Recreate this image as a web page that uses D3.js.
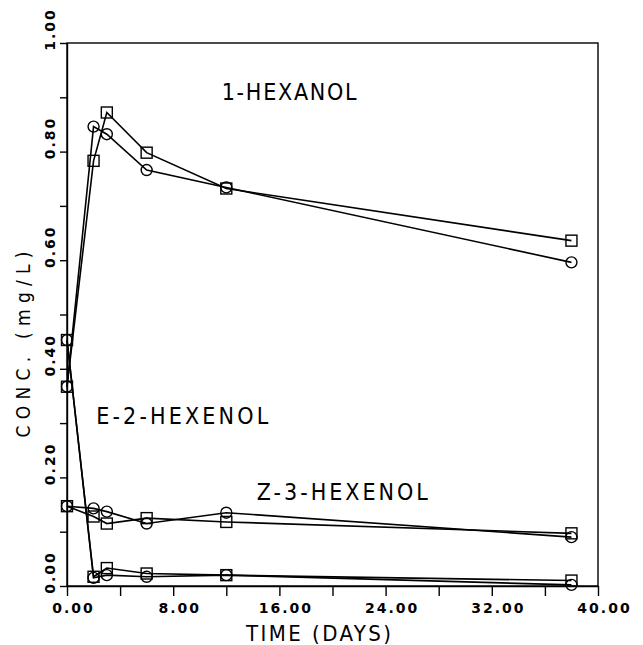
<!DOCTYPE html>
<html>
<head>
<meta charset="utf-8">
<script src="https://d3js.org/d3.v7.min.js"></script>
<style>
	body { margin: 0; background: #fff; }
	svg { display: block; }
	text { font-family: "DejaVu Sans Condensed", "DejaVu Sans", sans-serif; fill: #000; }
</style>
</head>
<body>
<div id="chart"></div>
<script>

// sampling days
const days = [0, 2, 3, 6, 12, 38];

// 1-hexanol
const hexanolCircle = [0.367, 0.846, 0.832, 0.766, 0.734, 0.596];
const hexanolSquare = [0.367, 0.783, 0.872, 0.798, 0.732, 0.636];

// E-2-hexenol
const e2Circle = [0.453, 0.015, 0.020, 0.017, 0.020, 0.002];
const e2Square = [0.453, 0.017, 0.033, 0.023, 0.020, 0.010];

// Z-3-hexenol
const z3Circle = [0.147, 0.143, 0.137, 0.115, 0.135, 0.090];
const z3Square = [0.147, 0.128, 0.115, 0.125, 0.118, 0.097];

const xTicks = [0, 4, 8, 12, 16, 20, 24, 28, 32, 36, 40];
const yTicks = [0, 0.1, 0.2, 0.3, 0.4, 0.5, 0.6, 0.7, 0.8, 0.9, 1.0];

const labels = [
	{text: "1-HEXANOL", x: 11.65, y: 0.895, len: 135},
	{text: "E-2-HEXENOL", x: 2.2, y: 0.299, len: 172},
	{text: "Z-3-HEXENOL", x: 14.3, y: 0.158, len: 171}
];

let series = [
	{values: hexanolCircle, mark: "circle"},
	{values: hexanolSquare, mark: "square"},
	{values: e2Circle, mark: "circle"},
	{values: e2Square, mark: "square"},
	{values: z3Circle, mark: "circle"},
	{values: z3Square, mark: "square"}
];

let margin = {top: 43, right: 45, bottom: 59, left: 67};
let width = 643 - margin.left - margin.right;
let height = 645 - margin.top - margin.bottom;

let svg = d3.select("#chart").append("svg")
	.attr("width", 643)
	.attr("height", 645)
	.append("g")
	.attr("transform", "translate(" + margin.left + "," + margin.top + ")");

let x = d3.scaleLinear().domain([0, 40]).range([0, width]);
let y = d3.scaleLinear().domain([0, 1]).range([height, 0]);

let fmt = d3.format(".2f");

// frame
svg.append("rect")
	.attr("x", 0).attr("y", 0)
	.attr("width", width).attr("height", height)
	.attr("fill", "none")
	.attr("stroke", "#000")
	.attr("stroke-width", 1.4);

// x axis
let xAxis = d3.axisBottom(x)
	.tickValues(xTicks)
	.tickSize(10)
	.tickSizeOuter(0)
	.tickFormat(d => d % 8 === 0 ? fmt(d) : "");

let gx = svg.append("g")
	.attr("transform", "translate(0," + height + ")")
	.call(xAxis);
gx.selectAll("path, line").attr("stroke", "#000").attr("stroke-width", 1.4);
gx.selectAll("text")
	.attr("y", 27)
	.attr("dy", 0)
	.attr("dx", 6)
	.style("font-family", "'DejaVu Sans', sans-serif")
	.style("font-weight", "bold")
	.style("font-size", "14px")
	.style("letter-spacing", "2px");

// y axis
let yAxis = d3.axisLeft(y)
	.tickValues(yTicks)
	.tickSize(7)
	.tickSizeOuter(0)
	.tickFormat(d => Math.round(d * 10) % 2 === 0 ? fmt(d) : "");

let gy = svg.append("g").call(yAxis);
gy.selectAll("path, line").attr("stroke", "#000").attr("stroke-width", 1.4);
gy.selectAll("text")
	.attr("x", 0)
	.attr("dy", 0)
	.attr("text-anchor", "middle")
	.attr("transform", "translate(-12,-14) rotate(-90)")
	.style("font-family", "'DejaVu Sans', sans-serif")
	.style("font-weight", "bold")
	.style("font-size", "14px")
	.style("letter-spacing", "2px");

// axis titles
svg.append("text")
	.attr("x", x(20) - 14)
	.attr("y", height + 55)
	.attr("text-anchor", "middle")
	.attr("textLength", 145)
	.attr("lengthAdjust", "spacing")
	.style("font-size", "22px")
	.text("TIME (DAYS)");

svg.append("text")
	.attr("transform", "translate(-37," + (y(0.5) + 30) + ") rotate(-90)")
	.attr("text-anchor", "middle")
	.attr("textLength", 186)
	.attr("lengthAdjust", "spacing")
	.style("font-size", "19px")
	.text("CONC. (mg/L)");

// lines
let line = d3.line()
	.x((d, i) => x(days[i]))
	.y(d => y(d));

svg.selectAll(".series-line")
	.data(series)
	.enter()
	.append("path")
	.attr("class", "series-line")
	.attr("d", d => line(d.values))
	.attr("fill", "none")
	.attr("stroke", "#000")
	.attr("stroke-width", 1.6);

// markers
series.forEach(s => {
	let pts = s.values.map((v, i) => ({t: days[i], v: v}));
	if (s.mark === "circle") {
		svg.selectAll(null)
			.data(pts)
			.enter()
			.append("circle")
			.attr("cx", d => x(d.t))
			.attr("cy", d => y(d.v))
			.attr("r", 5.5)
			.attr("fill", "none")
			.attr("stroke", "#000")
			.attr("stroke-width", 1.4);
	} else {
		svg.selectAll(null)
			.data(pts)
			.enter()
			.append("rect")
			.attr("x", d => x(d.t) - 5.5)
			.attr("y", d => y(d.v) - 5.5)
			.attr("width", 11)
			.attr("height", 11)
			.attr("fill", "none")
			.attr("stroke", "#000")
			.attr("stroke-width", 1.4);
	}
});

// series labels
svg.selectAll(".series-label")
	.data(labels)
	.enter()
	.append("text")
	.attr("class", "series-label")
	.attr("x", d => x(d.x))
	.attr("y", d => y(d.y))
	.attr("textLength", d => d.len)
	.attr("lengthAdjust", "spacing")
	.style("font-size", "23px")
	.text(d => d.text);

</script>
</body>
</html>
